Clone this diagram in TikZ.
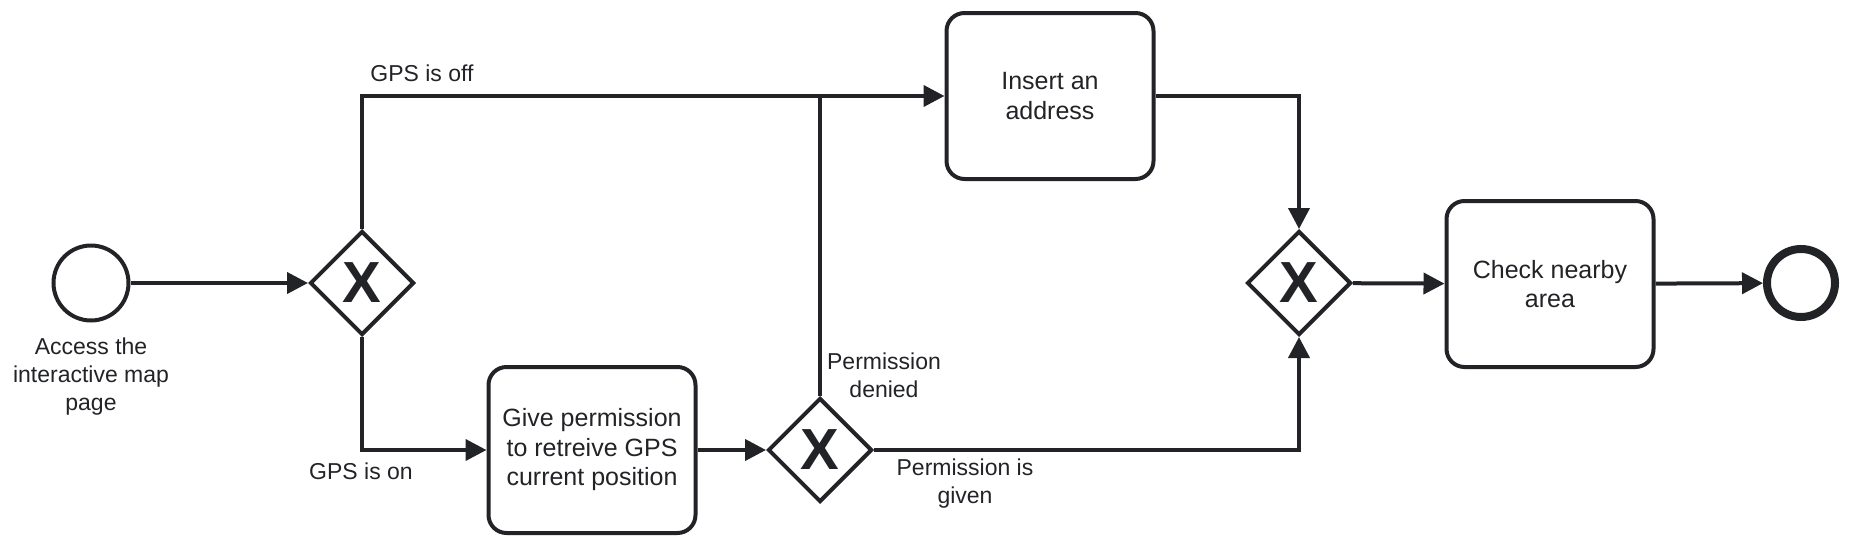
\documentclass[tikz,border=0pt]{standalone}
\usepackage{fontspec}
\setmainfont{Liberation Sans}
\usepackage{tikz}
\usetikzlibrary{arrows.meta, positioning, shapes.geometric, calc}
\definecolor{bpmnink}{HTML}{222326}

\begin{document}
\begin{tikzpicture}[
    x=1pt, y=1pt,
    flow/.style={line width=4pt, draw=bpmnink, -{Triangle[length=21pt, width=21pt]}},
    plainflow/.style={line width=4pt, draw=bpmnink},
    task/.style={draw=bpmnink, line width=4pt, rounded corners=18pt,
        minimum width=207pt, minimum height=166pt, align=center,
        text=bpmnink, font=\fontsize{25}{29.5}\selectfont},
    gateway/.style={draw=bpmnink, line width=4pt, diamond, minimum size=104pt,
        inner sep=0pt, text=bpmnink, font=\fontsize{58}{58}\selectfont\bfseries},
    startevent/.style={draw=bpmnink, line width=4pt, circle, minimum size=75pt, inner sep=0pt},
    endevent/.style={draw=bpmnink, line width=8pt, circle, minimum size=68pt, inner sep=0pt},
    flowtext/.style={align=center, text=bpmnink, font=\fontsize{23}{28}\selectfont},
]
    \useasboundingbox (0,0) rectangle (1850,-546);

    % Events and gateways
    \node[startevent] (access) at (91,-283) {};
    \node[flowtext] (accesstext) at (91,-377) {Access the\\interactive map\\page};
    \node[gateway] (split) at (362,-283) {X};
    \node[gateway] (decide) at (820,-450) {X};
    \node[gateway] (merge) at (1299,-283) {X};
    \node[endevent] (finish) at (1801,-283) {};

    % Tasks
    \node[task] (insert) at (1050,-96) {Insert an\\address};
    \node[task] (permission) at (592,-450) {Give permission\\to retreive GPS\\current position};
    \node[task] (check) at (1550,-284) {Check nearby\\area};

    % Flow labels
    \node[flowtext] (gpsoff) at (422,-73) {GPS is off};
    \node[flowtext] (gpson) at (361,-471) {GPS is on};
    \node[flowtext] (denied) at (884,-375) {Permission\\denied};
    \node[flowtext] (given) at (965,-484) {Permission is\\given};

    % Sequence flows
    \draw[flow] (access) -- (split);
    \draw[flow] (split.north) |- (insert.west);
    \draw[flow] (split.south) |- (permission.west);
    \draw[flow] (permission) -- (decide);
    \draw[plainflow] (decide.north) -- (decide.north |- insert.west);
    \draw[flow] (decide.east) -| (merge.south);
    \draw[flow] (insert.east) -| (merge.north);
    \draw[flow] (merge) -- (check);
    \draw[flow] (check) -- (finish);
\end{tikzpicture}
\end{document}
